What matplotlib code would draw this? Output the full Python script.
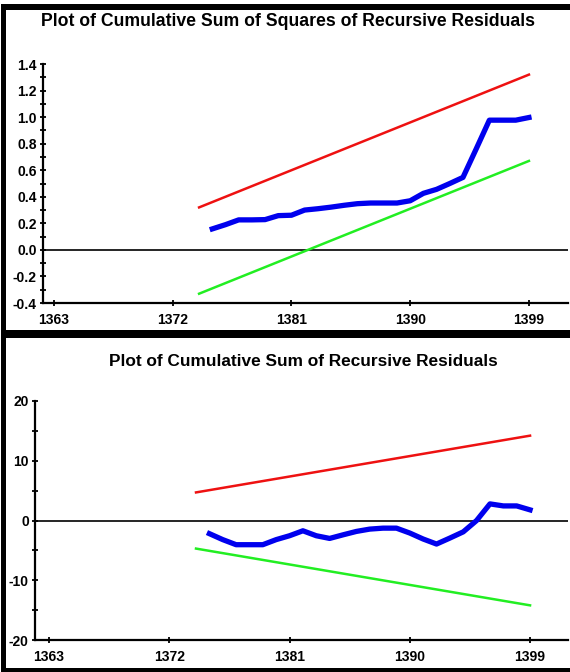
import matplotlib
matplotlib.use("Agg")
import matplotlib.pyplot as plt
from matplotlib.patches import Rectangle
from matplotlib.ticker import MultipleLocator

# ---- data ----
bound_years = list(range(1374, 1400))
stat_years = list(range(1375, 1400))

cusumsq_upper = [0.32, 0.36, 0.40, 0.44, 0.48, 0.52, 0.56, 0.60, 0.64, 0.68, 0.72, 0.76, 0.80,
                 0.84, 0.88, 0.92, 0.96, 1.00, 1.04, 1.08, 1.12, 1.16, 1.20, 1.24, 1.28, 1.32]
cusumsq_lower = [-0.33, -0.29, -0.25, -0.21, -0.17, -0.13, -0.09, -0.05, -0.01, 0.03, 0.07, 0.11, 0.15,
                 0.19, 0.23, 0.27, 0.31, 0.35, 0.39, 0.43, 0.47, 0.51, 0.55, 0.59, 0.63, 0.67]
cusumsq_stat = [0.158, 0.19, 0.226, 0.226, 0.228, 0.258, 0.261, 0.30, 0.31, 0.322, 0.336, 0.348, 0.353,
                0.353, 0.353, 0.37, 0.426, 0.456, 0.50, 0.546, 0.76, 0.977, 0.977, 0.977, 0.997]

cusum_upper = [4.7, 5.08, 5.46, 5.84, 6.22, 6.6, 6.98, 7.36, 7.74, 8.12, 8.5, 8.88, 9.26,
               9.64, 10.02, 10.4, 10.78, 11.16, 11.54, 11.92, 12.3, 12.68, 13.06, 13.44, 13.82, 14.2]
cusum_lower = [-4.7, -5.08, -5.46, -5.84, -6.22, -6.6, -6.98, -7.36, -7.74, -8.12, -8.5, -8.88, -9.26,
               -9.64, -10.02, -10.4, -10.78, -11.16, -11.54, -11.92, -12.3, -12.68, -13.06, -13.44, -13.82, -14.2]
cusum_stat = [-2.2, -3.2, -4.05, -4.05, -4.05, -3.2, -2.55, -1.72, -2.55, -3.0, -2.4, -1.83, -1.44,
              -1.28, -1.28, -2.1, -3.1, -3.94, -2.94, -1.9, 0.0, 2.78, 2.44, 2.44, 1.78]

x_ticks = [1363, 1372, 1381, 1390, 1399]
top_yticks = [-0.4, -0.2, 0.0, 0.2, 0.4, 0.6, 0.8, 1.0, 1.2, 1.4]
top_ylabels = ["-0.4", "-0.2", "0.0", "0.2", "0.4", "0.6", "0.8", "1.0", "1.2", "1.4"]
bot_yticks = [-20, -10, 0, 10, 20]
bot_ylabels = ["-20", "-10", "0", "10", "20"]

title_top = "Plot of Cumulative Sum of Squares of Recursive Residuals"
title_bot = "Plot of Cumulative Sum of Recursive Residuals"

# ---- figure ----
W, H = 570, 672
plt.rcParams['font.family'] = ['Liberation Sans', 'DejaVu Sans']
fig = plt.figure(figsize=(W / 100, H / 100), dpi=100)
fig.patch.set_facecolor("white")
TICKFONT = ['Liberation Sans', 'DejaVu Sans']


def px_rect(x0, y0, x1, y1):
    return Rectangle((x0 / W, 1 - y1 / H), (x1 - x0) / W, (y1 - y0) / H,
                     transform=fig.transFigure, facecolor="black", edgecolor="none", zorder=0)


for r in [px_rect(3, 4, 570, 10), px_rect(1, 4, 6, 672), px_rect(1, 330, 570, 338),
          px_rect(1, 668, 570, 672)]:
    fig.patches.append(r)


def make_axes(left, right, top, bottom):
    return fig.add_axes([left / W, 1 - bottom / H, (right - left) / W, (bottom - top) / H])


def style(ax, yticks, ylabels, ylim, xlim, minor):
    ax.set_xlim(*xlim)
    ax.set_ylim(*ylim)
    for s in ["top", "right"]:
        ax.spines[s].set_visible(False)
    for s in ["left", "bottom"]:
        ax.spines[s].set_linewidth(1.6)
    ax.set_xticks(x_ticks)
    ax.set_xticklabels([str(t) for t in x_ticks], fontsize=10, fontweight="bold", family=TICKFONT)
    ax.set_yticks(yticks)
    ax.set_yticklabels(ylabels, fontsize=10, fontweight="bold", family=TICKFONT)
    ax.yaxis.set_minor_locator(MultipleLocator(minor))
    ax.tick_params(axis="both", which="both", direction="inout", width=1.3, length=5)
    ax.tick_params(axis="x", pad=5)
    ax.tick_params(axis="y", pad=2)
    ax.set_facecolor("none")
    ax.patch.set_alpha(0)


# top panel
ax1 = make_axes(43, 568, 64, 303)
ax1.axhline(0, color="black", lw=1.2, zorder=1)
ax1.plot(bound_years, cusumsq_upper, color="#ee1111", lw=1.8, zorder=2)
ax1.plot(bound_years, cusumsq_lower, color="#22ee22", lw=1.8, zorder=2)
ax1.plot(stat_years, cusumsq_stat, color="#0000ee", lw=3.8, zorder=3, solid_joinstyle="round")
style(ax1, top_yticks, top_ylabels, (-0.4, 1.4), (1362.17, 1401.96), 0.1)

# bottom panel
ax2 = make_axes(35, 568, 401, 640)
ax2.axhline(0, color="black", lw=1.2, zorder=1)
ax2.plot(bound_years, cusum_upper, color="#ee1111", lw=1.8, zorder=2)
ax2.plot(bound_years, cusum_lower, color="#22ee22", lw=1.8, zorder=2)
ax2.plot(stat_years, cusum_stat, color="#0000ee", lw=3.8, zorder=3, solid_joinstyle="round")
style(ax2, bot_yticks, bot_ylabels, (-20, 20), (1361.95, 1401.84), 5)

fig.text(288 / W, 1 - 22 / H, title_top, ha="center", va="center", fontsize=12.7, fontweight="bold")
fig.text(303 / W, 1 - 361 / H, title_bot, ha="center", va="center", fontsize=12.4, fontweight="bold")

fig.savefig("out.png", dpi=100, facecolor="white")
